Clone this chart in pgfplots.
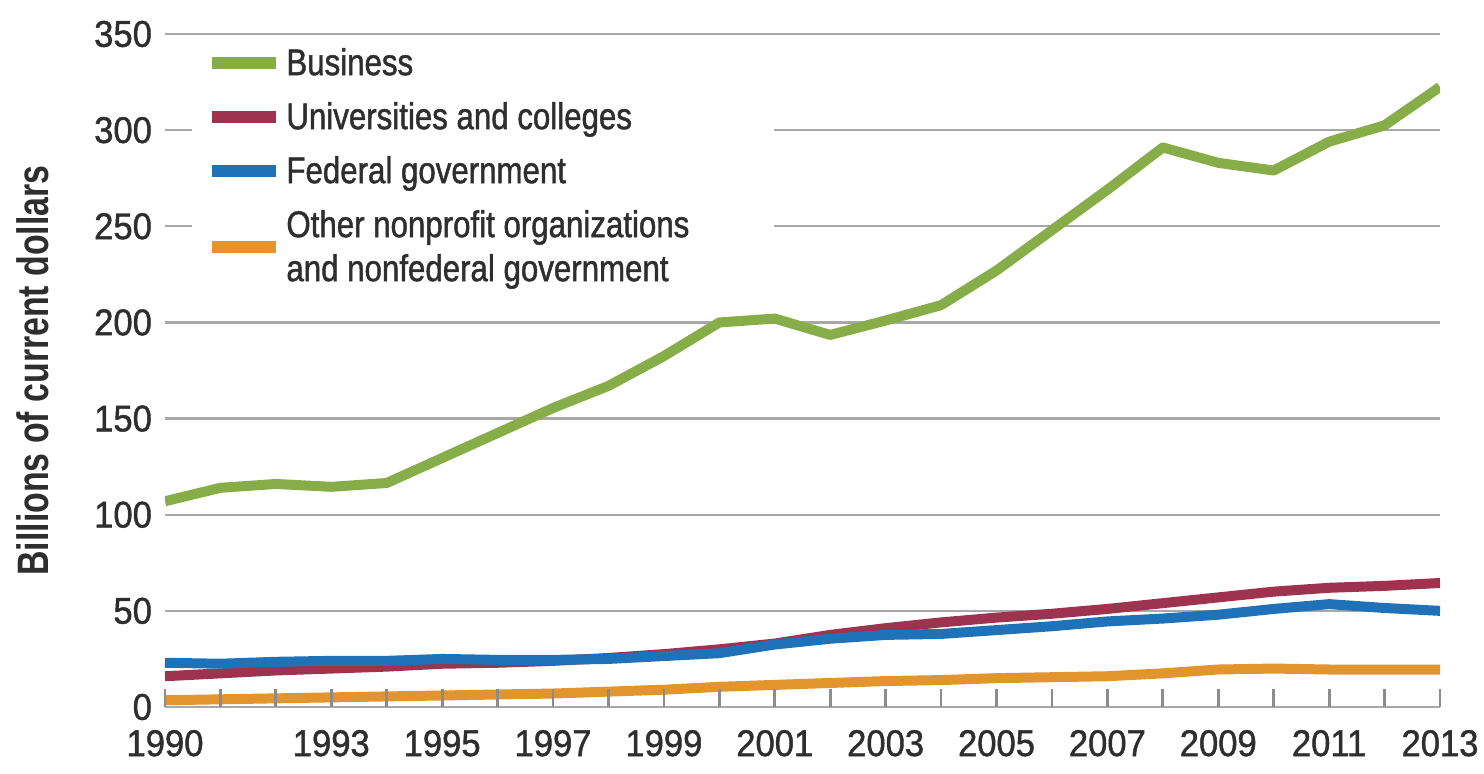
\documentclass[border=0pt]{standalone}
\usepackage{fontspec}
\setmainfont{Liberation Sans}[FakeStretch=0.84, FakeBold=1.2]
\newfontfamily\tickfont{Liberation Sans}[FakeStretch=0.93, FakeBold=1.2]
\newfontfamily\labfont{Liberation Sans}[FakeStretch=0.77]
\usepackage{pgfplots}
\usepackage{pgfplotstable}
\pgfplotsset{compat=1.18}
\definecolor{cgreen}{HTML}{86AD48}
\definecolor{cmaroon}{HTML}{9E3350}
\definecolor{cblue}{HTML}{1F71B8}
\definecolor{corange}{HTML}{E2952F}
\definecolor{gridgray}{HTML}{A8A8A8}
\definecolor{tickgray}{HTML}{8C8C8C}
\definecolor{txt}{HTML}{2E2E2E}
\pgfplotstableread{
year business univ federal other
1990 107   16   23   3.5
1991 114   17.5 22.5 4
1992 116   19   23.5 4.5
1993 114.5 20   24   5
1994 116.5 21   24   5.5
1995 129.5 22.5 25   6
1996 142.5 23   24.5 6.5
1997 155.5 24   24.5 7
1998 167   25.5 25   8
1999 182.5 27.5 26.5 9
2000 200   30   28   10.5
2001 202   33   32.5 11.5
2002 193.5 37.5 35.5 12.5
2003 201   41   37.5 13.5
2004 209   44   38   14
2005 227   46.5 40   15
2006 248   48.5 42   15.5
2007 269   51   44.5 16
2008 291   54   46   17.5
2009 283   57   48   19.5
2010 279   60   51   20
2011 294   62   53.5 19.5
2012 302.5 63   51.5 19.5
2013 322.5 64.5 50   19.5
}\datatable
\begin{document}
\begin{tikzpicture}
\begin{axis}[
  name=main,
  scale only axis, width=637.5pt, height=336.5pt,
  xmin=1990, xmax=2013, ymin=0, ymax=350,
  axis x line*=bottom, axis y line*=left,
  y axis line style={draw=none},
  x axis line style={draw=gridgray, line width=1.2pt},
  xtick={1990,1991,1992,1993,1994,1995,1996,1997,1998,1999,2000,2001,2002,2003,2004,2005,2006,2007,2008,2009,2010,2011,2012,2013},
  xticklabels={1990,,,1993,,1995,,1997,,1999,,2001,,2003,,2005,,2007,,2009,,2011,,2013},
  xtick align=inside, major tick length=9pt,
  xtick style={draw=tickgray, line width=1.4pt},
  ytick={0,50,...,350},
  ytick style={draw=none},
  ymajorgrids,
  major grid style={draw=gridgray, line width=1.2pt},
  tick label style={font=\tickfont\fontsize{18.6}{22}\selectfont, text=txt},
  /pgf/number format/assume math mode=true,
  xticklabel style={yshift=-8pt},
  yticklabel style={xshift=-3pt},
  ylabel={Billions of current dollars},
  ylabel style={at={(axis description cs:-0.1035,0.5)}, anchor=center, font=\labfont\bfseries\fontsize{22}{24}\selectfont, text=txt},
  legend style={at={(axis description cs:0.0212,0.993)}, anchor=north west,
    fill=white, draw=none, inner xsep=7pt, inner ysep=2pt, row sep=7.5pt,
    font=\fontsize{18.6}{22}\selectfont, text=txt,
    cells={anchor=west, align=left}},
  legend image code/.code={\draw[#1, line width=6pt] (0pt,0pt) -- (32pt,0pt);},
  every axis plot/.append style={line width=5pt, line join=round, no marks},
]
\addplot[cgreen] table[x=year, y=business] {\datatable};
\addlegendentry{\rule[-5pt]{0pt}{19pt}\makebox[235pt][l]{Business}}
\addplot[cmaroon] table[x=year, y=univ] {\datatable};
\addlegendentry{\rule[-5pt]{0pt}{19pt}Universities and colleges}
\addplot[cblue] table[x=year, y=federal] {\datatable};
\addlegendentry{\rule[-5pt]{0pt}{19pt}Federal government}
\addplot[corange] table[x=year, y=other] {\datatable};
\addlegendentry{\rule[-5pt]{0pt}{19pt}Other nonprofit organizations\\and nonfederal government}
\end{axis}
% short upward tick marks along the bottom axis, drawn on top
\begin{axis}[
  at={(main.south west)}, anchor=south west,
  scale only axis, width=637.5pt, height=9pt,
  xmin=1990, xmax=2013, ymin=0, ymax=1,
  hide axis, clip=false,
]
\addplot[ycomb, draw=tickgray, line width=1.4pt, no marks] coordinates {
(1990,1) (1991,1) (1992,1) (1993,1) (1994,1) (1995,1) (1996,1) (1997,1)
(1998,1) (1999,1) (2000,1) (2001,1) (2002,1) (2003,1) (2004,1) (2005,1)
(2006,1) (2007,1) (2008,1) (2009,1) (2010,1) (2011,1) (2012,1) (2013,1)};
\end{axis}
\pgfresetboundingbox
\path[use as bounding box] ([shift={(-82.5pt,-33pt)}]main.south west) rectangle ([shift={(22pt,17pt)}]main.north east);
\end{tikzpicture}
\end{document}
